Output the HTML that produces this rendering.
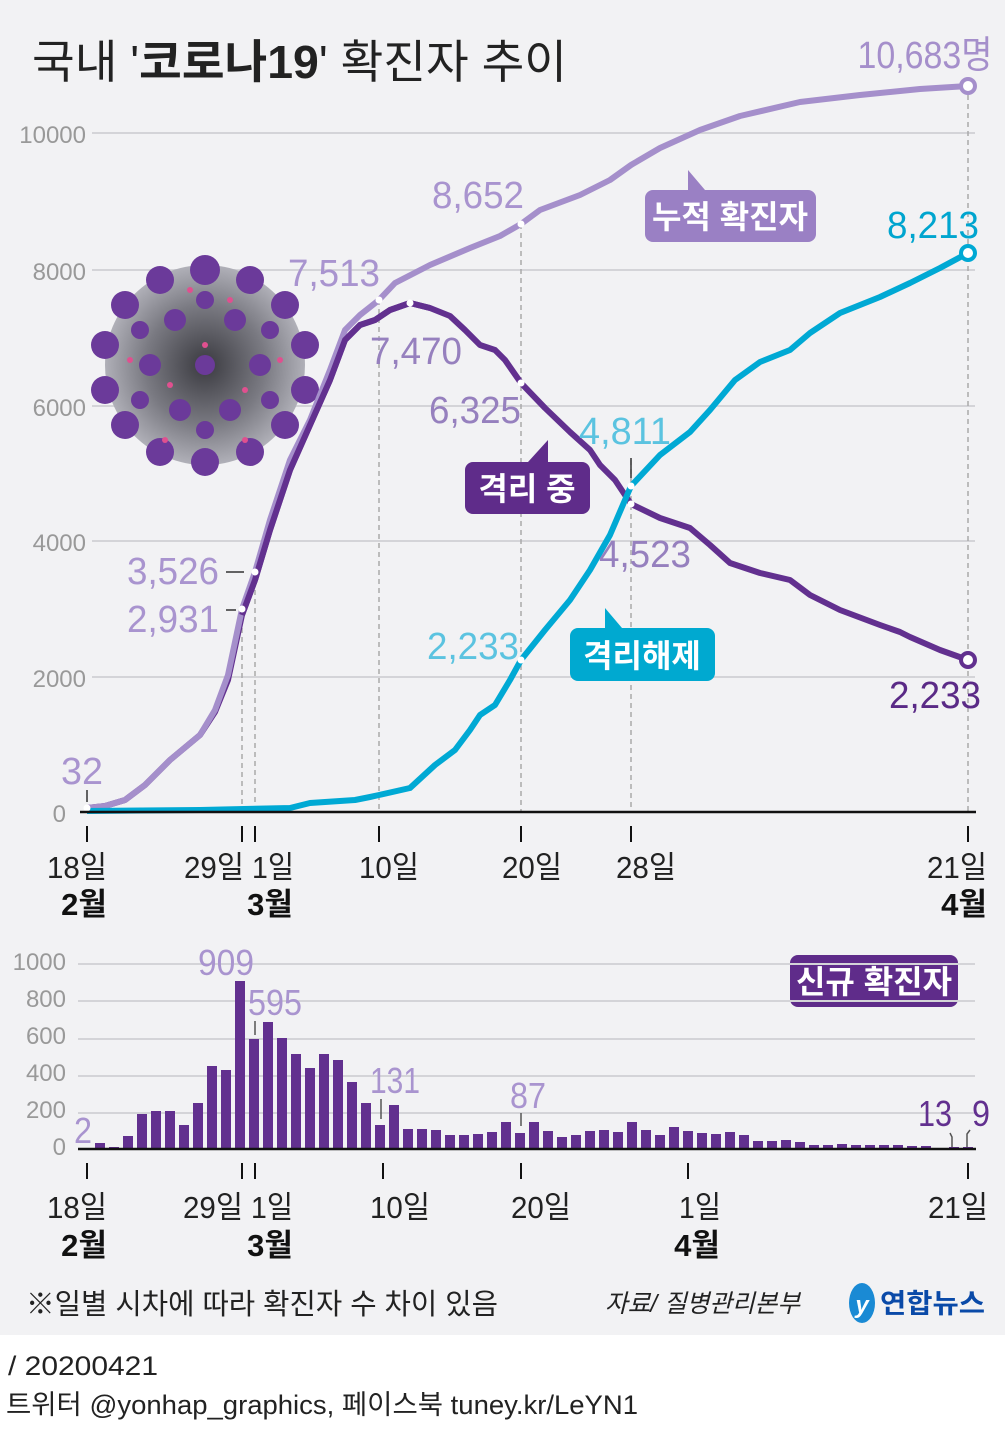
<!DOCTYPE html>
<html><head><meta charset="utf-8"><style>
html,body{margin:0;padding:0;background:#fff}
svg{display:block}
text{font-family:"Liberation Sans","Noto Sans CJK KR",sans-serif}
</style></head><body>
<svg width="1005" height="1439" viewBox="0 0 1005 1439" xmlns="http://www.w3.org/2000/svg">
<defs>
<radialGradient id="vg" cx="50%" cy="50%" r="50%">
<stop offset="0" stop-color="#3a3a40"/><stop offset="0.6" stop-color="#7a7a82"/><stop offset="1" stop-color="#b0b0b8"/>
</radialGradient>
</defs>
<rect x="0" y="0" width="1005" height="1335" fill="#f2f2f4"/>
<text x="32" y="78" font-size="46" fill="#222" textLength="535" lengthAdjust="spacingAndGlyphs">국내 '<tspan font-weight="bold">코로나19</tspan>' 확진자 추이</text>

<g stroke="#d4d4d8" stroke-width="2">
<line x1="92" y1="133" x2="975" y2="133"/><line x1="92" y1="270" x2="975" y2="270"/>
<line x1="92" y1="406" x2="975" y2="406"/><line x1="92" y1="541" x2="975" y2="541"/>
<line x1="92" y1="677" x2="975" y2="677"/>
</g>
<g font-size="24" fill="#999" text-anchor="end">
<text x="86" y="143">10000</text><text x="86" y="280">8000</text><text x="86" y="416">6000</text>
<text x="86" y="551">4000</text><text x="86" y="687">2000</text><text x="66" y="822">0</text>
</g>
<g stroke="#aaa" stroke-width="1.5" stroke-dasharray="5,4">
<line x1="242" y1="610" x2="242" y2="812"/><line x1="255" y1="572" x2="255" y2="812"/>
<line x1="379" y1="300" x2="379" y2="812"/><line x1="521" y1="224" x2="521" y2="812"/>
<line x1="631" y1="460" x2="631" y2="812"/><line x1="968" y1="86" x2="968" y2="812"/>
</g>

<g>
<circle cx="205" cy="365" r="100" fill="url(#vg)"/>
<g fill="#6b3a9a">
<circle cx="205" cy="270" r="15"/><circle cx="160" cy="280" r="14"/><circle cx="250" cy="280" r="14"/>
<circle cx="125" cy="305" r="14"/><circle cx="285" cy="305" r="14"/><circle cx="105" cy="345" r="14"/>
<circle cx="305" cy="345" r="14"/><circle cx="105" cy="390" r="14"/><circle cx="305" cy="390" r="14"/>
<circle cx="125" cy="425" r="14"/><circle cx="285" cy="425" r="14"/><circle cx="160" cy="452" r="14"/>
<circle cx="250" cy="452" r="14"/><circle cx="205" cy="462" r="14"/>
<circle cx="175" cy="320" r="11"/><circle cx="235" cy="320" r="11"/><circle cx="150" cy="365" r="11"/>
<circle cx="260" cy="365" r="11"/><circle cx="180" cy="410" r="11"/><circle cx="230" cy="410" r="11"/>
<circle cx="205" cy="365" r="10"/><circle cx="205" cy="300" r="9"/><circle cx="140" cy="330" r="9"/>
<circle cx="270" cy="330" r="9"/><circle cx="140" cy="400" r="9"/><circle cx="270" cy="400" r="9"/>
<circle cx="205" cy="430" r="9"/>
</g>
<g fill="#e0508f">
<circle cx="190" cy="290" r="3"/><circle cx="230" cy="300" r="3"/><circle cx="130" cy="360" r="3"/>
<circle cx="280" cy="360" r="3"/><circle cx="165" cy="440" r="3"/><circle cx="245" cy="440" r="3"/>
<circle cx="205" cy="345" r="3"/><circle cx="170" cy="385" r="3"/><circle cx="245" cy="390" r="3"/>
</g>
</g>

<polyline fill="none" stroke="#62308f" stroke-width="6" stroke-linejoin="round" points="87,808 105,806 125,800 145,785 170,760 200,735 215,712 228,680 242,615 255,580 270,530 290,470 310,425 330,380 345,340 360,325 375,320 390,310 410,303 430,308 450,316 465,330 480,345 495,350 505,360 521,383 545,408 570,432 590,450 600,465 615,480 631,504 660,518 690,528 710,545 730,563 760,573 790,580 810,595 840,610 880,625 900,632 910,637 940,650 968,660"/>
<polyline fill="none" stroke="#a58fcb" stroke-width="6" stroke-linejoin="round" points="87,808 105,806 125,800 145,785 170,760 200,735 215,710 228,675 242,609 255,572 270,520 290,460 310,420 330,370 345,330 360,315 379,300 395,283 430,265 470,248 500,236 521,224 540,210 580,195 610,180 631,165 660,148 700,130 740,116 800,102 860,95 920,89 968,86"/>
<polyline fill="none" stroke="#62308f" stroke-width="6" stroke-linejoin="round" points="242,615 255,580 270,530 290,470 310,425 330,380 345,340 360,325 375,320 390,310 410,303 430,308"/>
<polyline fill="none" stroke="#00a9d4" stroke-width="6" stroke-linejoin="round" points="87,811 200,810 290,808 310,803 355,800 370,797 379,795 410,788 435,765 455,750 470,730 480,715 495,705 510,680 521,660 545,630 570,600 590,570 610,535 631,486 660,455 690,432 710,410 735,380 760,362 790,350 810,333 840,313 880,297 910,283 940,268 968,253"/>
<g fill="#fff">
<circle cx="87" cy="808" r="3.5"/><circle cx="242" cy="609" r="3.5"/><circle cx="255" cy="572" r="3.5"/>
<circle cx="379" cy="300" r="3.5"/><circle cx="521" cy="224" r="3.5"/><circle cx="410" cy="303" r="3.5"/>
<circle cx="521" cy="383" r="3.5"/><circle cx="631" cy="504" r="3.5"/><circle cx="631" cy="486" r="3.5"/>
<circle cx="521" cy="660" r="3.5"/>
</g>
<circle cx="968" cy="86" r="7" fill="#fff" stroke="#a58fcb" stroke-width="4"/>
<circle cx="968" cy="253" r="7" fill="#fff" stroke="#00a9d4" stroke-width="4"/>
<circle cx="968" cy="660" r="7" fill="#fff" stroke="#62308f" stroke-width="4"/>
<g stroke="#333" stroke-width="1.5">
<line x1="226" y1="572" x2="244" y2="572"/><line x1="226" y1="610" x2="236" y2="610"/>
<line x1="631" y1="458" x2="631" y2="478"/><line x1="87" y1="790" x2="87" y2="802"/>
</g>
<line x1="80" y1="812" x2="976" y2="812" stroke="#111" stroke-width="2.5"/>
<g stroke="#111" stroke-width="2">
<line x1="87" y1="826" x2="87" y2="842"/><line x1="242" y1="826" x2="242" y2="842"/><line x1="255" y1="826" x2="255" y2="842"/>
<line x1="379" y1="826" x2="379" y2="842"/><line x1="521" y1="826" x2="521" y2="842"/><line x1="631" y1="826" x2="631" y2="842"/>
<line x1="968" y1="826" x2="968" y2="842"/>
</g>
<g font-size="31" fill="#222" text-anchor="middle">
<text x="77" y="878" textLength="60" lengthAdjust="spacingAndGlyphs">18일</text>
<text x="214" y="878" textLength="60" lengthAdjust="spacingAndGlyphs">29일</text>
<text x="273" y="878" textLength="42" lengthAdjust="spacingAndGlyphs">1일</text>
<text x="389" y="878" textLength="60" lengthAdjust="spacingAndGlyphs">10일</text>
<text x="532" y="878" textLength="60" lengthAdjust="spacingAndGlyphs">20일</text>
<text x="646" y="878" textLength="60" lengthAdjust="spacingAndGlyphs">28일</text>
<text x="957" y="878" textLength="60" lengthAdjust="spacingAndGlyphs">21일</text>
</g>
<g font-size="31" fill="#111" font-weight="bold" text-anchor="middle">
<text x="84" y="915">2월</text><text x="270" y="915">3월</text><text x="964" y="915">4월</text>
</g>

<g font-size="38" text-anchor="middle">
<text x="925" y="68" fill="#a58fcb" textLength="135" lengthAdjust="spacingAndGlyphs">10,683명</text>
<text x="478" y="208" fill="#a994cf" textLength="92" lengthAdjust="spacingAndGlyphs">8,652</text>
<text x="334" y="286" fill="#a994cf" textLength="92" lengthAdjust="spacingAndGlyphs">7,513</text>
<text x="416" y="364" fill="#9680be" textLength="92" lengthAdjust="spacingAndGlyphs">7,470</text>
<text x="475" y="423" fill="#9680be" textLength="92" lengthAdjust="spacingAndGlyphs">6,325</text>
<text x="625" y="444" fill="#5bc3e0" textLength="92" lengthAdjust="spacingAndGlyphs">4,811</text>
<text x="645" y="567" fill="#9680be" textLength="92" lengthAdjust="spacingAndGlyphs">4,523</text>
<text x="473" y="659" fill="#5bc3e0" textLength="92" lengthAdjust="spacingAndGlyphs">2,233</text>
<text x="935" y="708" fill="#5a2a86" textLength="92" lengthAdjust="spacingAndGlyphs">2,233</text>
<text x="933" y="238" fill="#00a5cf" textLength="92" lengthAdjust="spacingAndGlyphs">8,213</text>
<text x="173" y="584" fill="#a994cf" textLength="92" lengthAdjust="spacingAndGlyphs">3,526</text>
<text x="173" y="632" fill="#a994cf" textLength="92" lengthAdjust="spacingAndGlyphs">2,931</text>
<text x="82" y="784" fill="#a994cf" textLength="42" lengthAdjust="spacingAndGlyphs">32</text>
</g>

<path d="M688,170 L705,190 L688,190 Z" fill="#9a80c4"/>
<rect x="645" y="190" width="171" height="52" rx="8" fill="#9a80c4"/>
<text x="730" y="228" font-size="32" fill="#fff" text-anchor="middle" font-weight="bold">누적 확진자</text>
<path d="M548,440 L548,462 L528,462 Z" fill="#5f2c8a"/>
<rect x="465" y="462" width="125" height="52" rx="8" fill="#5f2c8a"/>
<text x="527" y="500" font-size="32" fill="#fff" text-anchor="middle" font-weight="bold">격리 중</text>
<path d="M605,608 L622,628 L605,628 Z" fill="#00a9d0"/>
<rect x="570" y="628" width="145" height="53" rx="8" fill="#00a9d0"/>
<text x="642" y="667" font-size="32" fill="#fff" text-anchor="middle" font-weight="bold">격리해제</text>
<rect x="790" y="955" width="168" height="52" rx="8" fill="#5f2c8a"/>
<text x="874" y="993" font-size="32" fill="#fff" text-anchor="middle" font-weight="bold">신규 확진자</text>

<g stroke="#d4d4d8" stroke-width="2">
<line x1="78" y1="964" x2="975" y2="964"/><line x1="78" y1="1001" x2="975" y2="1001"/>
<line x1="78" y1="1039" x2="975" y2="1039"/><line x1="78" y1="1076" x2="975" y2="1076"/>
<line x1="78" y1="1113" x2="975" y2="1113"/>
</g>
<g font-size="24" fill="#999" text-anchor="end">
<text x="66" y="970">1000</text><text x="66" y="1007">800</text><text x="66" y="1044">600</text>
<text x="66" y="1081">400</text><text x="66" y="1118">200</text><text x="66" y="1155">0</text>
</g>
<g fill="#62308f">
<rect x="95" y="1143" width="10" height="6"/><rect x="109" y="1147" width="10" height="2"/><rect x="123" y="1136" width="10" height="13"/>
<rect x="137" y="1114" width="10" height="35"/><rect x="151" y="1111" width="10" height="38"/><rect x="165" y="1111" width="10" height="38"/>
<rect x="179" y="1125" width="10" height="24"/><rect x="193" y="1103" width="10" height="46"/><rect x="207" y="1066" width="10" height="83"/>
<rect x="221" y="1070" width="10" height="79"/><rect x="235" y="981" width="10" height="168"/><rect x="249" y="1039" width="10" height="110"/>
<rect x="263" y="1022" width="10" height="127"/><rect x="277" y="1038" width="10" height="111"/><rect x="291" y="1054" width="10" height="95"/>
<rect x="305" y="1068" width="10" height="81"/><rect x="319" y="1054" width="10" height="95"/><rect x="333" y="1060" width="10" height="89"/>
<rect x="347" y="1082" width="10" height="67"/><rect x="361" y="1103" width="10" height="46"/><rect x="375" y="1125" width="10" height="24"/>
<rect x="389" y="1105" width="10" height="44"/><rect x="403" y="1129" width="10" height="20"/><rect x="417" y="1129" width="10" height="20"/>
<rect x="431" y="1130" width="10" height="19"/><rect x="445" y="1135" width="10" height="14"/><rect x="459" y="1135" width="10" height="14"/>
<rect x="473" y="1134" width="10" height="15"/><rect x="487" y="1132" width="10" height="17"/><rect x="501" y="1122" width="10" height="27"/>
<rect x="515" y="1133" width="10" height="16"/><rect x="529" y="1122" width="10" height="27"/><rect x="543" y="1131" width="10" height="18"/>
<rect x="557" y="1137" width="10" height="12"/><rect x="571" y="1135" width="10" height="14"/><rect x="585" y="1131" width="10" height="18"/>
<rect x="599" y="1130" width="10" height="19"/><rect x="613" y="1132" width="10" height="17"/><rect x="627" y="1122" width="10" height="27"/>
<rect x="641" y="1130" width="10" height="19"/><rect x="655" y="1135" width="10" height="14"/><rect x="669" y="1127" width="10" height="22"/>
<rect x="683" y="1131" width="10" height="18"/><rect x="697" y="1133" width="10" height="16"/><rect x="711" y="1134" width="10" height="15"/>
<rect x="725" y="1132" width="10" height="17"/><rect x="739" y="1135" width="10" height="14"/><rect x="753" y="1141" width="10" height="8"/>
<rect x="767" y="1141" width="10" height="8"/><rect x="781" y="1140" width="10" height="9"/><rect x="795" y="1142" width="10" height="7"/>
<rect x="809" y="1145" width="10" height="4"/><rect x="823" y="1145" width="10" height="4"/><rect x="837" y="1144" width="10" height="5"/>
<rect x="851" y="1145" width="10" height="4"/><rect x="865" y="1145" width="10" height="4"/><rect x="879" y="1145" width="10" height="4"/>
<rect x="893" y="1145" width="10" height="4"/><rect x="907" y="1146" width="10" height="3"/><rect x="921" y="1146" width="10" height="3"/>
<rect x="935" y="1148" width="10" height="1"/><rect x="949" y="1147" width="10" height="2"/><rect x="963" y="1147" width="10" height="2"/>
</g>
<line x1="78" y1="1149" x2="976" y2="1149" stroke="#111" stroke-width="2.5"/>
<g stroke="#555" stroke-width="1.5" fill="none">
<line x1="255" y1="1021" x2="255" y2="1035"/><line x1="381" y1="1099" x2="381" y2="1119"/><line x1="521" y1="1113" x2="521" y2="1126"/>
<polyline points="950,1133 952,1137 952,1147"/><polyline points="970,1130 967,1134 967,1147"/>
</g>
<g font-size="36" text-anchor="middle">
<text x="226" y="975" fill="#a994cf" textLength="56" lengthAdjust="spacingAndGlyphs">909</text>
<text x="275" y="1015" fill="#a994cf" textLength="54" lengthAdjust="spacingAndGlyphs">595</text>
<text x="395" y="1093" fill="#a994cf" textLength="50" lengthAdjust="spacingAndGlyphs">131</text>
<text x="528" y="1108" fill="#a994cf" textLength="36" lengthAdjust="spacingAndGlyphs">87</text>
<text x="83" y="1143" fill="#a994cf" textLength="18" lengthAdjust="spacingAndGlyphs">2</text>
<text x="935" y="1126" fill="#62308f" textLength="34" lengthAdjust="spacingAndGlyphs">13</text>
<text x="981" y="1126" fill="#62308f" textLength="18" lengthAdjust="spacingAndGlyphs">9</text>
</g>
<g stroke="#111" stroke-width="2">
<line x1="87" y1="1163" x2="87" y2="1179"/><line x1="242" y1="1163" x2="242" y2="1179"/><line x1="255" y1="1163" x2="255" y2="1179"/>
<line x1="383" y1="1163" x2="383" y2="1179"/><line x1="521" y1="1163" x2="521" y2="1179"/><line x1="688" y1="1163" x2="688" y2="1179"/>
<line x1="968" y1="1163" x2="968" y2="1179"/>
</g>
<g font-size="31" fill="#222" text-anchor="middle">
<text x="77" y="1218" textLength="60" lengthAdjust="spacingAndGlyphs">18일</text>
<text x="213" y="1218" textLength="60" lengthAdjust="spacingAndGlyphs">29일</text>
<text x="272" y="1218" textLength="42" lengthAdjust="spacingAndGlyphs">1일</text>
<text x="400" y="1218" textLength="60" lengthAdjust="spacingAndGlyphs">10일</text>
<text x="541" y="1218" textLength="60" lengthAdjust="spacingAndGlyphs">20일</text>
<text x="700" y="1218" textLength="42" lengthAdjust="spacingAndGlyphs">1일</text>
<text x="958" y="1218" textLength="60" lengthAdjust="spacingAndGlyphs">21일</text>
</g>
<g font-size="31" fill="#111" font-weight="bold" text-anchor="middle">
<text x="84" y="1256">2월</text><text x="270" y="1256">3월</text><text x="697" y="1256">4월</text>
</g>

<text x="26" y="1314" font-size="29" fill="#222" textLength="472" lengthAdjust="spacingAndGlyphs">※일별 시차에 따라 확진자 수 차이 있음</text>
<text x="605" y="1312" font-size="25" fill="#222" font-style="italic" textLength="195" lengthAdjust="spacingAndGlyphs">자료/ 질병관리본부</text>
<ellipse cx="862" cy="1303" rx="13" ry="20" fill="#1a8ad4"/>
<text x="862" y="1313" font-size="24" fill="#fff" text-anchor="middle" font-style="italic" font-weight="bold">y</text>
<text x="880" y="1313" font-size="27" fill="#0a4aa8" font-weight="bold" textLength="105" lengthAdjust="spacingAndGlyphs">연합뉴스</text>
<text x="8" y="1375" font-size="27" fill="#222" textLength="150" lengthAdjust="spacingAndGlyphs"> / 20200421</text>
<text x="6" y="1414" font-size="27" fill="#222" textLength="632" lengthAdjust="spacingAndGlyphs">트위터 @yonhap_graphics, 페이스북 tuney.kr/LeYN1</text>
</svg>
</body></html>
